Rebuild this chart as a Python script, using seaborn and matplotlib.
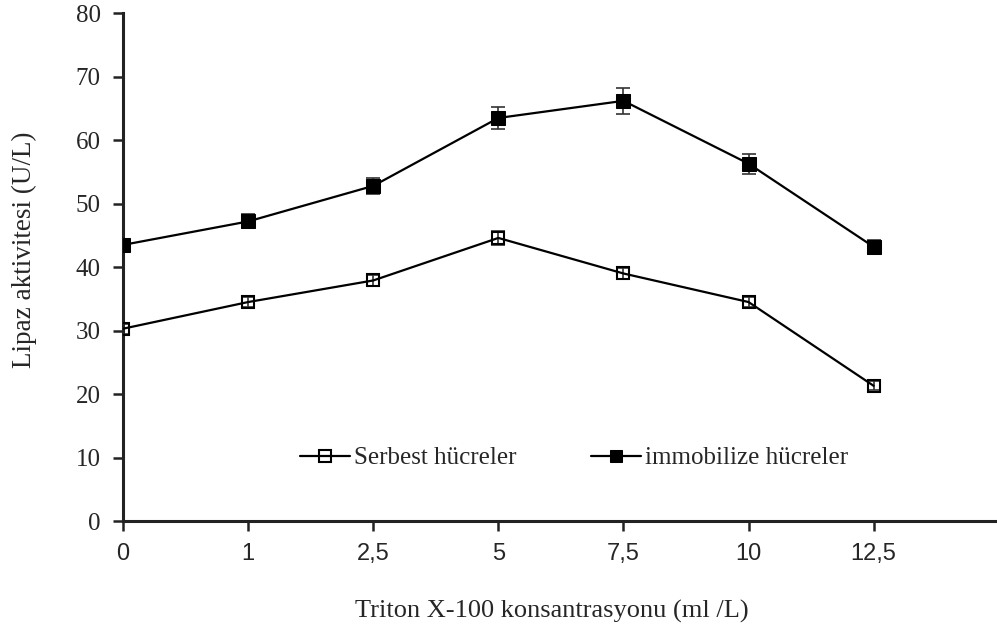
import matplotlib
matplotlib.use("Agg")
import matplotlib.pyplot as plt
import seaborn as sns
import pandas as pd
import numpy as np

categories = ["0", "1", "2,5", "5", "7,5", "10", "12,5"]
serbest = [30.3, 34.5, 37.9, 44.6, 39.0, 34.5, 21.3]
serbest_err = [0.8, 0.8, 0.9, 1.1, 0.9, 0.8, 0.7]
immob = [43.5, 47.2, 52.8, 63.5, 66.2, 56.3, 43.2]
immob_err = [1.0, 1.1, 1.3, 1.7, 2.0, 1.6, 1.1]

sns.set_theme(style="ticks")
plt.rcParams['font.family'] = ['Liberation Serif', 'DejaVu Serif']

fig = plt.figure(figsize=(9.97, 6.31), dpi=100)
ax = fig.add_axes([0.1234, 0.1743, 0.998 - 0.1234, 0.979 - 0.1743])

pos = list(range(len(categories)))
df = pd.DataFrame({
    "x": pos * 2,
    "y": serbest + immob,
    "s": ["Serbest hücreler"] * len(pos) + ["immobilize hücreler"] * len(pos),
})

ax.errorbar(pos, serbest, yerr=serbest_err, fmt="none", ecolor="#333333", elinewidth=1.2, capsize=5, capthick=1.2, zorder=2)
ax.errorbar(pos, immob, yerr=immob_err, fmt="none", ecolor="#333333", elinewidth=1.2, capsize=5, capthick=1.2, zorder=2)

sns.lineplot(data=df[df.s == "Serbest hücreler"], x="x", y="y", ax=ax, color="black", lw=1.6,
             marker="s", markersize=9, markerfacecolor="none", markeredgecolor="black", markeredgewidth=1.5,
             label="Serbest hücreler", zorder=3)
sns.lineplot(data=df[df.s == "immobilize hücreler"], x="x", y="y", ax=ax, color="black", lw=1.6,
             marker="s", markersize=10, markerfacecolor="black", markeredgecolor="black",
             label="immobilize hücreler", zorder=3)

ax.set_xlim(0, 6.97)
ax.set_ylim(0, 80)
ax.set_xticks(pos)
ax.set_xticklabels(categories, family=['Liberation Sans Narrow', 'Liberation Sans', 'DejaVu Sans'], fontsize=17)
ax.set_yticks(range(0, 81, 10))
ax.tick_params(axis="both", direction="out", length=7, width=1.8, color="#222222")
ax.tick_params(axis="y", labelsize=18, pad=9)
ax.tick_params(axis="x", pad=9)
for s in ["top", "right"]:
    ax.spines[s].set_visible(False)
for s in ["left", "bottom"]:
    ax.spines[s].set_linewidth(2.2)
    ax.spines[s].set_color("#222222")

ax.set_xlabel("Triton X-100 konsantrasyonu (ml /L)", fontsize=19)
ax.set_ylabel("Lipaz aktivitesi (U/L)", fontsize=19.5)
ax.xaxis.set_label_coords(0.492, -0.155)
ax.yaxis.set_label_coords(-0.099, 0.535)

ax.legend(loc="center", bbox_to_anchor=(0.517, 0.124), ncol=2, frameon=False, fontsize=18,
          handlelength=2.0, handletextpad=0.15, columnspacing=3.0, markerscale=0.9)

fig.savefig("out.png", dpi=100)
